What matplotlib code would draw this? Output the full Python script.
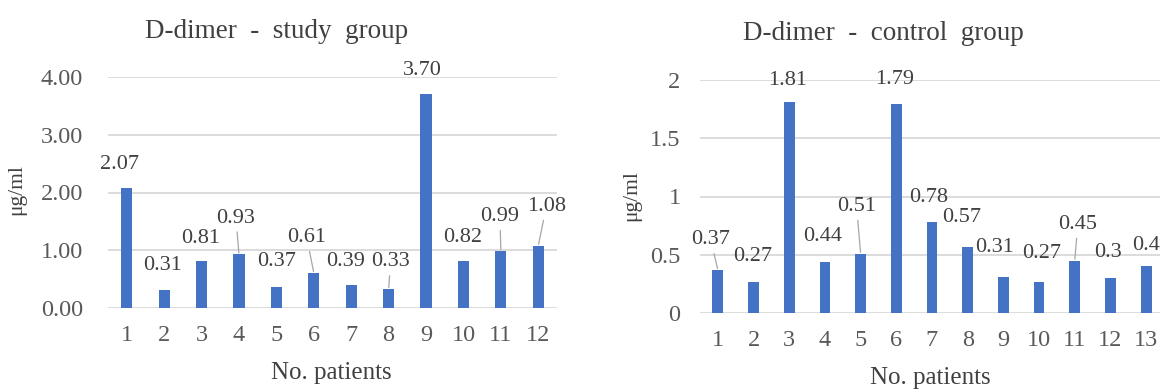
import matplotlib
matplotlib.use("Agg")
import matplotlib.pyplot as plt

# D-dimer values (µg/ml) per patient
study_patients = ["1", "2", "3", "4", "5", "6", "7", "8", "9", "10", "11", "12"]
study_values = [2.07, 0.31, 0.81, 0.93, 0.37, 0.61, 0.39, 0.33, 3.70, 0.82, 0.99, 1.08]
study_yticks = [0.0, 1.0, 2.0, 3.0, 4.0]

control_patients = ["1", "2", "3", "4", "5", "6", "7", "8", "9", "10", "11", "12", "13"]
control_values = [0.37, 0.27, 1.81, 0.44, 0.51, 1.79, 0.78, 0.57, 0.31, 0.27, 0.45, 0.3, 0.4]
control_yticks = [0, 0.5, 1, 1.5, 2]

# label placement (pixel offsets from bar top) and which labels get a leader line
study_offsets = [(-7, 24), (-2, 25), (-1, 23), (-3, 36), (0, 25), (-7, 35),
                 (-6, 24), (2, 27), (-4, 24), (-1, 23), (-1, 34), (8, 39)]
study_leaders = [3, 5, 7, 10, 11]
control_offsets = [(-7, 30), (-1, 25), (-2, 22), (-2, 25), (-4, 47), (-2, 25),
                   (-3, 25), (-6, 29), (-9, 29), (3, 28), (3, 36), (-2, 26), (0, 21)]
control_leaders = [0, 4, 10]

BAR = "#4472C4"
GRID = "#D9D9D9"
TICK = "#595959"
TEXT = "#404040"
FONT = ["Liberation Serif", "DejaVu Serif"]

plt.rcParams["font.family"] = FONT

W, H = 1160, 392
fig = plt.figure(figsize=(W / 100, H / 100), dpi=100)
fig.patch.set_facecolor("white")


def px_axes(x0, x1, y_top, y_bottom):
    return fig.add_axes([x0 / W, (H - y_bottom) / H, (x1 - x0) / W, (y_bottom - y_top) / H])


def draw(ax, cats, vals, yticks, ylim, fmt, offsets, leaders, ypad):
    xs = list(range(len(cats)))
    ax.set_axisbelow(True)
    ax.bar(xs, vals, width=0.3, color=BAR, zorder=3)
    ax.set_xlim(-0.5, len(cats) - 0.5)
    ax.set_ylim(*ylim)
    ax.set_yticks(yticks)
    ax.set_yticklabels([fmt(t) for t in yticks])
    ax.set_xticks(xs)
    ax.set_xticklabels(cats)
    ax.yaxis.grid(True, color=GRID, linewidth=1.3)
    for s in ax.spines.values():
        s.set_visible(False)
    ax.tick_params(axis="both", length=0, colors=TICK, labelsize=17.5)
    ax.tick_params(axis="y", pad=ypad)
    ax.tick_params(axis="x", pad=12)
    for i, v in enumerate(vals):
        dx, dy = offsets[i]
        kw = {}
        if i in leaders:
            kw["arrowprops"] = dict(arrowstyle="-", color="#A6A6A6", lw=0.9,
                                    shrinkA=1, shrinkB=1)
        ax.annotate(fmt(v), xy=(i, v), xytext=(dx, dy), textcoords="offset pixels",
                    ha="center", va="center", fontsize=16, color=TEXT,
                    annotation_clip=False, **kw)


ax1 = px_axes(108, 557, 77, 308)
draw(ax1, study_patients, study_values, study_yticks, (0, 4),
     lambda v: f"{v:.2f}", study_offsets, study_leaders, 18)

ax2 = px_axes(700, 1164, 80, 313)
draw(ax2, control_patients, control_values, control_yticks, (0, 2),
     lambda v: f"{v:g}", control_offsets, control_leaders, 14)


def px_text(x, y, s, **kw):
    fig.text(x / W, (H - y) / H, s, ha="center", va="center", **kw)


px_text(277, 31, "D-dimer  -  study  group", fontsize=19.5, color=TEXT)
px_text(883, 33, "D-dimer  -  control  group", fontsize=19.5, color=TEXT)
px_text(331, 373, "No. patients", fontsize=18, color=TEXT)
px_text(930, 378, "No. patients", fontsize=18, color=TEXT)
px_text(17, 190, "μg/ml", fontsize=15.5, color=TEXT, rotation=90)
px_text(632, 196, "μg/ml", fontsize=15.5, color=TEXT, rotation=90)

fig.savefig("out.png", dpi=100, facecolor="white")
